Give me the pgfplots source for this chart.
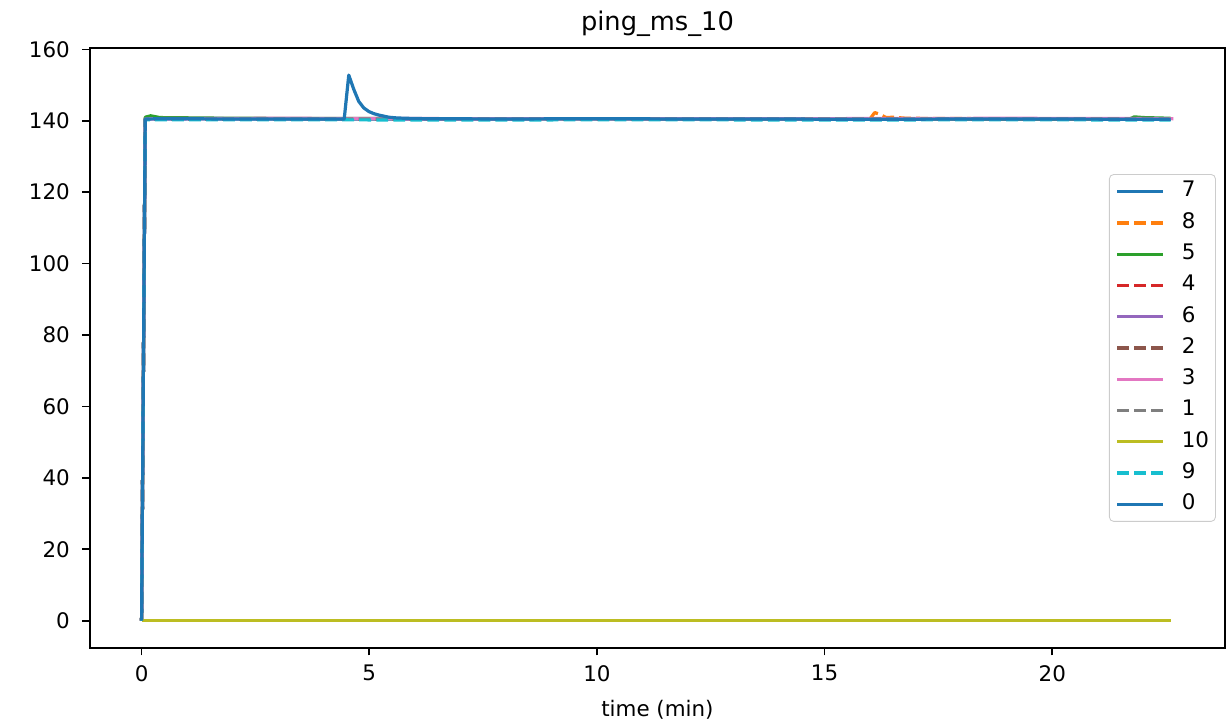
\documentclass[border=0pt]{standalone}
\usepackage{pgfplots}
\pgfplotsset{compat=1.18}
\usepackage{fontspec}
\setmainfont{DejaVu Sans}
\definecolor{C0}{HTML}{1F77B4}
\definecolor{C1}{HTML}{FF7F0E}
\definecolor{C2}{HTML}{2CA02C}
\definecolor{C3}{HTML}{D62728}
\definecolor{C4}{HTML}{9467BD}
\definecolor{C5}{HTML}{8C564B}
\definecolor{C6}{HTML}{E377C2}
\definecolor{C7}{HTML}{7F7F7F}
\definecolor{C8}{HTML}{BCBD22}
\definecolor{C9}{HTML}{17BECF}
\tikzset{mpldash/.style={dash pattern=on 5.55pt off 2.4pt}}
\begin{document}
\begin{tikzpicture}
\begin{axis}[
  at={(0,0)}, anchor=south west,
  scale only axis, width=530pt, height=280.2pt,
  xmin=-1.133, xmax=23.79, ymin=-7.64, ymax=160.4,
  xtick={0,5,10,15,20}, ytick={0,20,40,60,80,100,120,140,160},
  tick align=outside, major tick length=3.5pt,
  tick style={black, line width=0.8pt},
  axis line style={line width=0.8pt},
  xtick pos=bottom, ytick pos=left,
  /pgf/number format/assume math mode=true,
  ticklabel style={font=\fontsize{10}{12}\selectfont},
  xticklabel style={yshift=-1pt},
  yticklabel style={xshift=-2.4pt},
  xlabel={time (min)}, xlabel style={font=\fontsize{10}{12}\selectfont, yshift=-2pt},
  title={ping\_ms\_10}, title style={font=\fontsize{12}{14}\selectfont, yshift=-4.4pt},
  legend style={at={(rel axis cs:1,0.5)}, xshift=-4.2pt, anchor=east, draw=black!20, rounded corners=2pt,
    font=\fontsize{10}{12}\selectfont, row sep=4.6pt, column sep=7.8pt, inner sep=3pt,
    nodes={inner sep=0pt, text height=7.5pt, text depth=2.5pt},
    fill=white, fill opacity=0.8, text opacity=1},
  legend cell align=left,
  legend image code/.code={\draw[#1] (0pt,0pt) -- (21.5pt,0pt);},
  every axis plot/.append style={line width=1.5pt, line join=round},
]
% 7
\addplot[C0] coordinates {(0,0) (0.08,140.6) (0.3,140.7) (2,140.6) (4,140.5) (6,140.5) (8,140.6) (12,140.5) (16,140.5) (20,140.6) (22.6,140.5)};
\addlegendentry{7}
% 8
\addplot[C1, mpldash] coordinates {(0,0) (0.08,140.5) (2,140.6) (5,140.5) (8,140.4) (12,140.5) (16.0,140.6) (16.1,142.3) (16.22,141.8) (16.35,140.9) (16.5,141.0) (16.8,140.7) (20,140.5) (22.6,140.5)};
\addlegendentry{8}
% 5
\addplot[C2] coordinates {(0,0) (0.08,141.0) (0.2,141.4) (0.4,140.9) (2,140.7) (6,140.6) (10,140.6) (14,140.5) (18,140.5) (21.7,140.5) (21.8,141.1) (22.0,140.9) (22.6,140.7)};
\addlegendentry{5}
% 4
\addplot[C3, mpldash] coordinates {(0,0) (0.08,140.5) (3,140.5) (7,140.4) (11,140.5) (15,140.5) (19,140.4) (22.6,140.5)};
\addlegendentry{4}
% 6
\addplot[C4] coordinates {(0,0) (0.08,140.5) (3,140.6) (7,140.5) (11,140.6) (15,140.5) (19,140.6) (22.6,140.5)};
\addlegendentry{6}
% 2
\addplot[C5, mpldash] coordinates {(0,0) (0.08,140.4) (3,140.5) (7,140.4) (11,140.5) (15,140.4) (19,140.5) (22.6,140.4)};
\addlegendentry{2}
% 3
\addplot[C6] coordinates {(0,0) (0.08,140.6) (3,140.7) (7,140.6) (11,140.6) (15,140.6) (19,140.7) (22.66,140.6)};
\addlegendentry{3}
% 1
\addplot[C7, mpldash] coordinates {(0,0) (0.08,140.5) (3,140.5) (7,140.5) (11,140.5) (15,140.5) (19,140.5) (22.6,140.5)};
\addlegendentry{1}
% 10
\addplot[C8] coordinates {(0,0) (22.6,0)};
\addlegendentry{10}
% 9
\addplot[C9, mpldash] coordinates {(0,0) (0.08,140.3) (3,140.3) (7,140.2) (11,140.3) (15,140.2) (19,140.3) (22.6,140.2)};
\addlegendentry{9}
% 0
\addplot[C0] coordinates {(0,0) (0.08,140.5) (0.5,140.6) (2,140.5) (4.45,140.5) (4.55,152.8) (4.66,148.8) (4.77,145.4) (4.88,143.6) (4.99,142.6) (5.10,142.0) (5.21,141.6) (5.32,141.3) (5.43,141.0) (5.6,140.8) (5.8,140.7) (6.2,140.6) (8,140.5) (10,140.6) (12,140.5) (14,140.5) (16,140.4) (18,140.5) (20,140.5) (22.6,140.4)};
\addlegendentry{0}
\end{axis}
\useasboundingbox (-42.03pt,-35.03pt) rectangle (531pt,302.6pt);
\end{tikzpicture}
\end{document}
